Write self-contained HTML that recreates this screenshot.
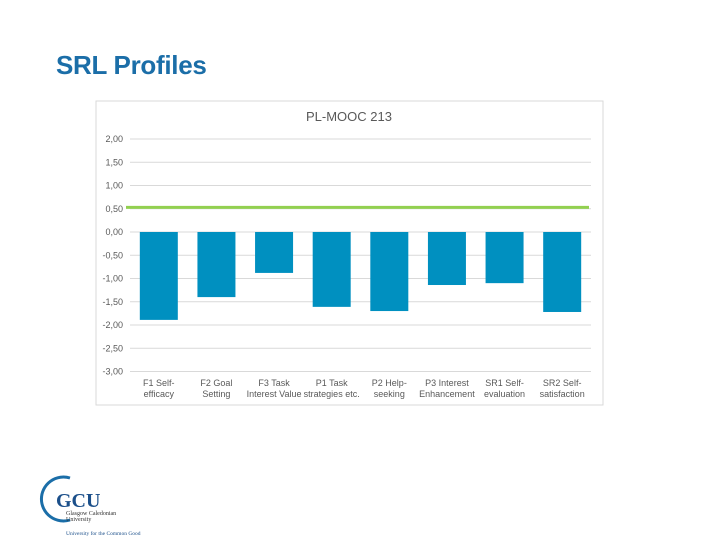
<!DOCTYPE html>
<html><head><meta charset="utf-8"><style>
body{margin:0;width:720px;height:540px;background:#fff;position:relative;overflow:hidden;font-family:"Liberation Sans",sans-serif}
#title{position:absolute;left:56px;top:50px;font-size:26px;font-weight:bold;color:#1b6ea8;letter-spacing:-0.3px}
svg{position:absolute;left:0;top:0}
</style></head><body>
<div id="title">SRL Profiles</div>
<svg width="720" height="540" id="chart">
<rect x="96" y="101" width="507" height="304" fill="#fff" stroke="#d9d9d9"/>
<text x="349" y="121" font-size="13" fill="#595959" text-anchor="middle">PL-MOOC 213</text>
<g id="grid"></g><g id="bars"></g><g id="labels"></g>
<g>
<path d="M70 478 A22 22 0 1 0 70 520" fill="none" stroke="#1b6ea8" stroke-width="3"/>
<text x="56" y="507" font-family="Liberation Serif,serif" font-size="20" font-weight="bold" fill="#1b4f8a">GCU</text>
<text x="66" y="515" font-family="Liberation Serif,serif" font-size="6" fill="#333">Glasgow Caledonian</text>
<text x="66" y="521" font-family="Liberation Serif,serif" font-size="6" fill="#333">University</text>
<text x="66" y="535" font-family="Liberation Serif,serif" font-size="5.5" fill="#1b4f8a">University for the Common Good</text>
</g>
</svg>
<script>
const categories=[["F1 Self-","efficacy"],["F2 Goal","Setting"],["F3 Task","Interest Value"],["P1 Task","strategies etc."],["P2 Help-","seeking"],["P3 Interest","Enhancement"],["SR1 Self-","evaluation"],["SR2 Self-","satisfaction"]];
const values=[-1.89,-1.40,-0.88,-1.61,-1.70,-1.14,-1.10,-1.72];
const reference=[0.53];
const ticks=[2,1.5,1,0.5,0,-0.5,-1,-1.5,-2,-2.5,-3];
const NS="http://www.w3.org/2000/svg";
const x0=130,x1=591,yTop=139,yBot=371.5,vMax=2,vMin=-3;
const y=v=>yTop+(vMax-v)/(vMax-vMin)*(yBot-yTop);
const bw=(x1-x0)/categories.length;
const xc=i=>x0+bw*(i+0.5);
function mk(t,a,p){const e=document.createElementNS(NS,t);for(const k in a)e.setAttribute(k,a[k]);p.appendChild(e);return e;}
const g=document.getElementById('grid'),b=document.getElementById('bars'),l=document.getElementById('labels');
ticks.forEach(t=>{
 const ln=mk('line',{x1:x0,x2:x1,y1:y(t),y2:y(t),stroke:'#d9d9d9','stroke-width':1},g);
 
 
 const tx=mk('text',{x:123,y:y(t)+3,'font-size':9,fill:'#595959','text-anchor':'end'},g);
 tx.textContent=t.toFixed(2).replace('.',',');
 
 
});
values.forEach((v,i)=>{
 const top=Math.min(y(0),y(v)),h=Math.abs(y(v)-y(0));
 const r=mk('rect',{x:xc(i)-19,y:top,width:38,height:h,fill:'#0090c0'},b);
 
 
 categories[i].forEach((s,j)=>{
  const t=mk('text',{x:xc(i),y:386+j*11,'font-size':9,fill:'#595959','text-anchor':'middle'},l);
  t.textContent=s;
  
  
 });
});
reference.forEach(v=>{
 const ln=mk('line',{x1:x0-4,x2:x1-2,y1:y(v),y2:y(v),stroke:'#92d050','stroke-width':3},b);
 
 
});
</script>
</body></html>
